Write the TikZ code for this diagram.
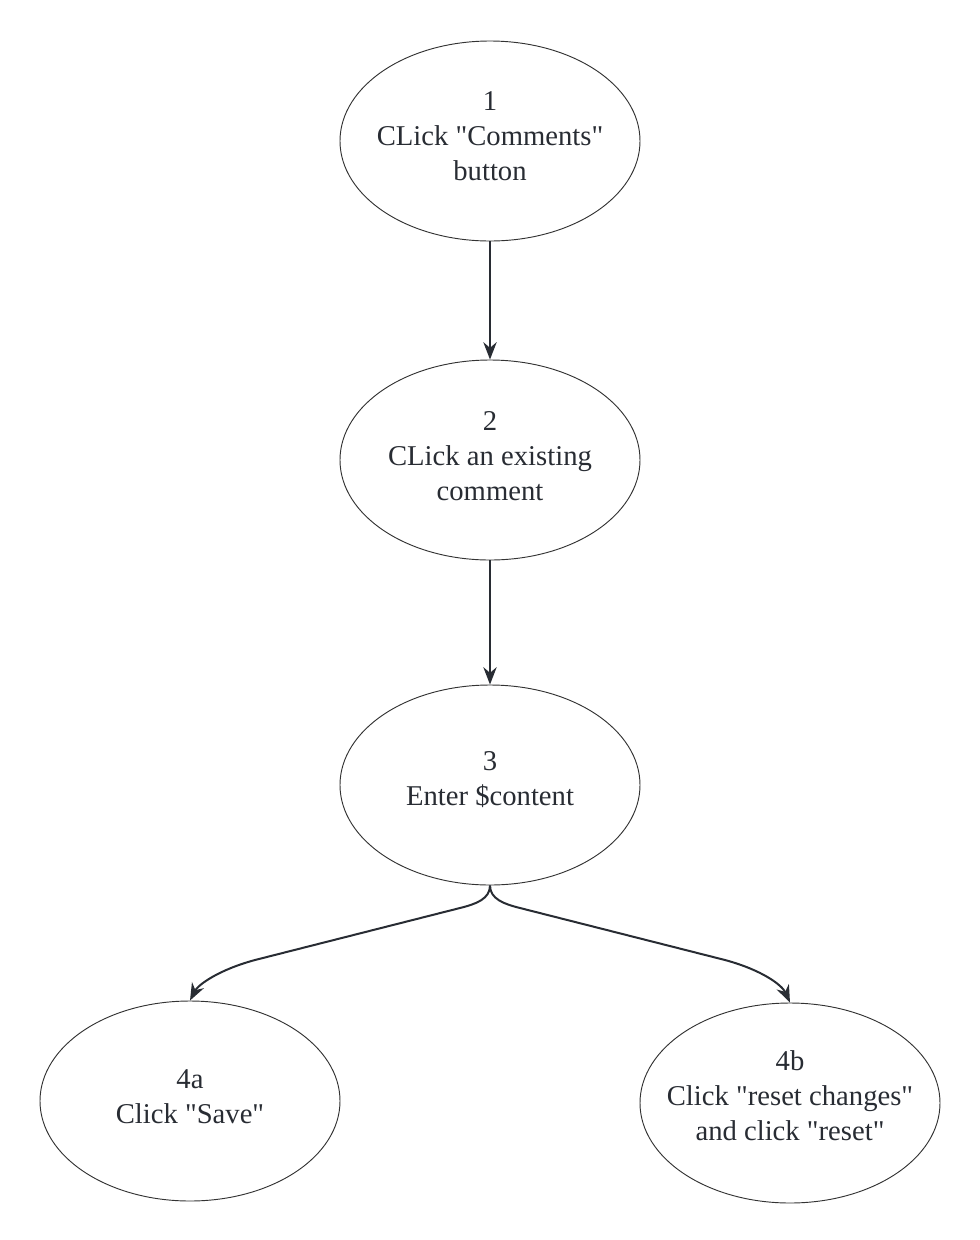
\documentclass[tikz,border=0pt]{standalone}
\usepackage{fontspec}
\setmainfont{Liberation Serif}[Ligatures=TeXOff]
\usetikzlibrary{shapes.geometric,arrows.meta}
\definecolor{ink}{HTML}{282C33}
\definecolor{rim}{HTML}{333333}
\begin{document}
\begin{tikzpicture}[x=0.75pt,y=-0.75pt,
  stepnode/.style={ellipse,draw=rim,line width=0.7pt,minimum width=225pt,minimum height=150pt,inner sep=0pt},
  steptext/.style={align=center,font=\fontsize{21.5}{26.3}\selectfont,text=ink},
  flow/.style={draw=ink,line width=1.5pt,-{Stealth[length=13pt,width=10pt]}}]
\useasboundingbox (0,0) rectangle (980,1240);
% step ellipses
\node[stepnode] (n1) at (490,141) {};
\node[stepnode] (n2) at (490,460) {};
\node[stepnode] (n3) at (490,785) {};
\node[stepnode] (n4a) at (190,1101) {};
\node[stepnode] (n4b) at (790,1103) {};
% labels
\node[steptext] (t1) at (490,136) {1\\CLick "Comments"\\button};
\node[steptext] (t2) at (490,456) {2\\CLick an existing\\comment};
\node[steptext] (t3) at (490,780) {3\\Enter \$content};
\node[steptext] (t4a) at (190,1097) {4a\\Click "Save"};
\node[steptext] (t4b) at (790,1096) {4b\\Click "reset changes"\\and click "reset"};
% connectors
\draw[flow] (n1.south) -- (n2.north);
\draw[flow] (n2.south) -- (n3.north);
\draw[flow] (n3.south) .. controls (490,899) and (476,904) .. (460,908)
  -- (255,960) .. controls (218,970) and (198,985) .. (n4a.north);
\draw[flow] (n3.south) .. controls (490,899) and (504,904) .. (520,908)
  -- (725,960) .. controls (762,970) and (782,985) .. (n4b.north);
\end{tikzpicture}
\end{document}
